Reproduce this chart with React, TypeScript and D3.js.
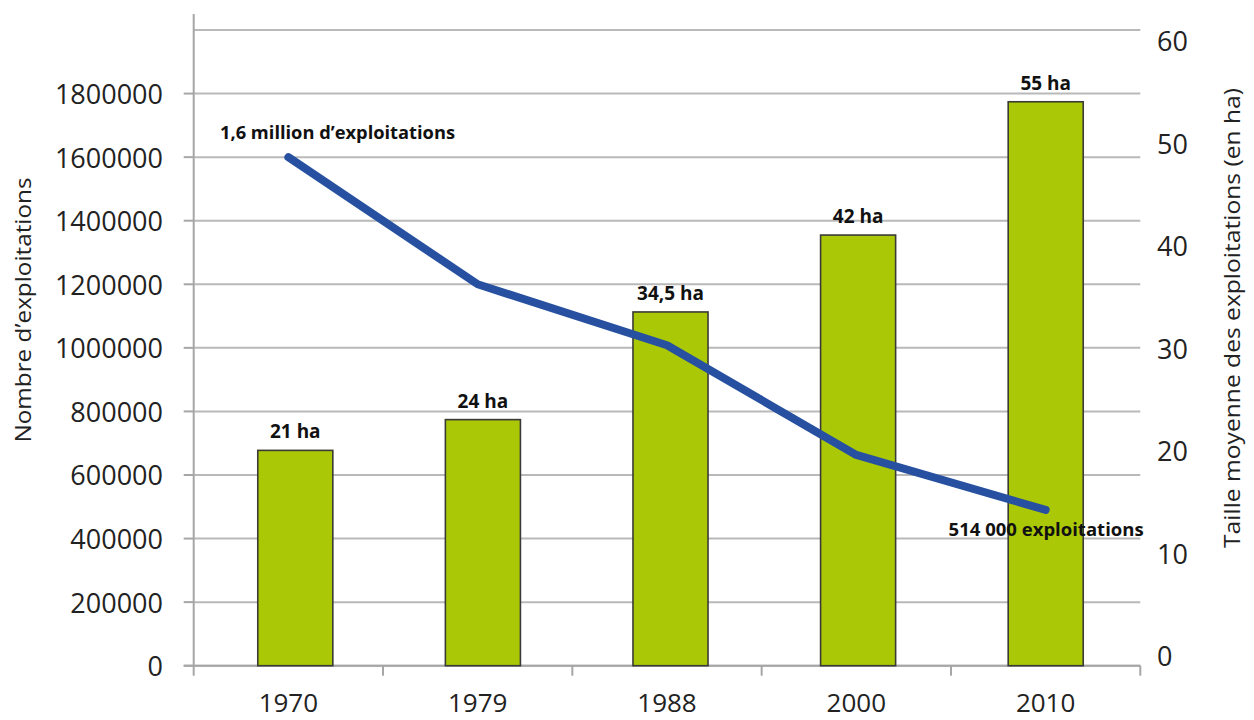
import React from "react";
import * as d3 from "d3";

const years = ["1970", "1979", "1988", "2000", "2010"];
const farmCounts = [1600000, 1200000, 1008000, 663000, 490000];
const avgSizes = [21, 24, 34.5, 42, 55];
const sizeLabels = ["21 ha", "24 ha", "34,5 ha", "42 ha", "55 ha"];
const leftTicks = [0, 200000, 400000, 600000, 800000, 1000000, 1200000, 1400000, 1600000, 1800000];
const gridValues = [0, 200000, 400000, 600000, 800000, 1000000, 1200000, 1400000, 1600000, 1800000, 2000000];
const rightTicks = [0, 10, 20, 30, 40, 50, 60];
const firstNote = "1,6 million d\u2019exploitations";
const lastNote = "514 000 exploitations";
const leftTitle = "Nombre d\u2019exploitations";
const rightTitle = "Taille moyenne des exploitations (en ha)";

const W = 1254;
const H = 720;
const X0 = 193.7;
const X1 = 1140.3;
const Y0 = 665.7;
const YTOP = 30;

export default function App() {
  const x = d3.scaleBand<string>().domain(years).range([X0, X1]).padding(0);
  const xBars = d3
    .scaleBand<string>()
    .domain(years)
    .range([201.5, 1139.5])
    .paddingInner(0.6)
    .paddingOuter(0.3);
  const yL = d3.scaleLinear().domain([0, 2000000]).range([Y0, YTOP]);
  const yR = d3.scaleLinear().domain([0, 60]).range([Y0, 50.5]);

  const line = d3
    .line<number>()
    .x((_, i) => (x(years[i]) as number) + x.bandwidth() / 2)
    .y((d) => yL(d));

  const font = "'Open Sans', sans-serif";
  const gridColor = "#b9b9b9";
  const axisColor = "#a6a6a6";
  const boundaries = years.map((y) => x(y) as number).concat([X1]);

  const lastX = (x(years[4]) as number) + x.bandwidth() / 2;

  return (
    <svg
      width={W}
      height={H}
      style={{ position: "absolute", left: 0, top: 0, background: "#fff" }}
      fontFamily={font}
    >
      {gridValues.map((v) => (
        <line key={"g" + v} x1={X0} x2={X1} y1={yL(v)} y2={yL(v)} stroke={gridColor} strokeWidth={2} />
      ))}
      <line x1={X0} x2={X0} y1={14} y2={Y0 + 1} stroke={axisColor} strokeWidth={2} />
      {leftTicks.map((v) => (
        <line key={"lt" + v} x1={X0 - 10} x2={X0} y1={yL(v)} y2={yL(v)} stroke={axisColor} strokeWidth={2} />
      ))}
      <line x1={X0 - 10} x2={X1} y1={Y0} y2={Y0} stroke={axisColor} strokeWidth={2} />
      {boundaries.map((bx, i) => (
        <line key={"bt" + i} x1={bx} x2={bx} y1={Y0} y2={Y0 + 10} stroke={axisColor} strokeWidth={2} />
      ))}
      {years.map((yr, i) => (
        <rect
          key={"b" + yr}
          x={xBars(yr) as number}
          y={yR(avgSizes[i])}
          width={xBars.bandwidth()}
          height={Y0 - yR(avgSizes[i])}
          fill="#abc807"
          stroke="#3a3a36"
          strokeWidth={1.6}
        />
      ))}
      {years.map((yr, i) => (
        <text
          key={"bl" + yr}
          x={(xBars(yr) as number) + xBars.bandwidth() / 2}
          y={yR(avgSizes[i]) - 12}
          textAnchor="middle"
          fontSize={19}
          fontWeight={700}
          fill="#111"
        >
          {sizeLabels[i]}
        </text>
      ))}
      <path
        d={line(farmCounts) as string}
        fill="none"
        stroke="#2751a0"
        strokeWidth={8}
        strokeLinecap="round"
        strokeLinejoin="round"
      />
      <text x={220} y={139} fontSize={18} fontWeight={700} fill="#111" textLength={235} lengthAdjust="spacingAndGlyphs">
        {firstNote}
      </text>
      <text x={lastX + 98} y={536} textAnchor="end" fontSize={18} fontWeight={700} fill="#111" textLength={195} lengthAdjust="spacingAndGlyphs">
        {lastNote}
      </text>
      {leftTicks.map((v) => (
        <text key={"ll" + v} x={163} y={yL(v)} textAnchor="end" dominantBaseline="central" fontSize={27} fill="#222">
          {String(v)}
        </text>
      ))}
      {rightTicks.map((v) => (
        <text key={"rl" + v} x={1157} y={yR(v) - 10} textAnchor="start" dominantBaseline="central" fontSize={27} fill="#222">
          {String(v)}
        </text>
      ))}
      {years.map((yr) => (
        <text
          key={"yl" + yr}
          x={(x(yr) as number) + x.bandwidth() / 2}
          y={712}
          textAnchor="middle"
          fontSize={26}
          fill="#222"
        >
          {yr}
        </text>
      ))}
      <text
        transform={`translate(22, 310) rotate(-90)`}
        textAnchor="middle"
        dominantBaseline="central"
        fontSize={22}
        fill="#222"
        textLength={265}
        lengthAdjust="spacingAndGlyphs"
      >
        {leftTitle}
      </text>
      <text
        transform={`translate(1231, 318) rotate(-90)`}
        textAnchor="middle"
        dominantBaseline="central"
        fontSize={22}
        fill="#222"
        textLength={460}
        lengthAdjust="spacingAndGlyphs"
      >
        {rightTitle}
      </text>
    </svg>
  );
}
